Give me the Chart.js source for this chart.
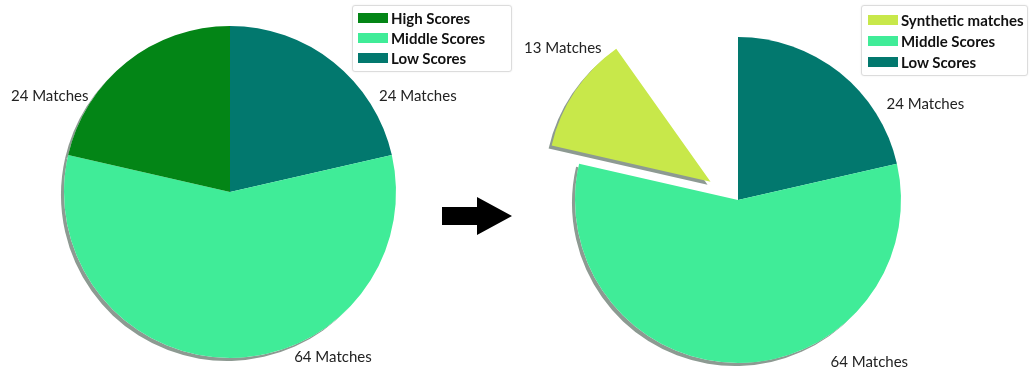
<!DOCTYPE html>
<html>
<head>
<meta charset="utf-8">
<script src="https://cdn.jsdelivr.net/npm/chart.js@4.4.1/dist/chart.umd.min.js"></script>
<style>
  body { margin: 0; background: #fff; width: 1032px; height: 373px; overflow: hidden; position: relative; font-family: Lato, sans-serif; }
  .pie { position: absolute; top: 0; width: 516px; height: 373px; }
  .legend { position: absolute; box-sizing: border-box; border: 1px solid #dcdcdc; border-radius: 3px; background: #fff;
            box-shadow: 0 0 2px rgba(0,0,0,0.08); font-weight: bold; font-size: 15px; color: #111; }
  .legend div { display: flex; align-items: center; }
  .legend span { display: inline-block; width: 30px; height: 10px; margin-right: 3px; }
  #arrow { position: absolute; left: 440px; top: 196px; }
</style>
</head>
<body>
<div class="pie" style="left:0"><canvas id="before"></canvas></div>
<div class="pie" style="left:516px"><canvas id="after"></canvas></div>
<div class="legend" id="beforeLegend" style="left:352px;top:5px;width:160px;height:67px;padding:2px 0 0 5px"></div>
<div class="legend" id="afterLegend" style="left:861px;top:5px;width:167px;height:71px;padding:3px 0 0 6px"></div>
<svg id="arrow" width="74" height="40" viewBox="0 0 74 40">
  <polygon points="2,11 37,11 37,1 72,20 37,39 37,29 2,29" fill="#000"/>
</svg>
<script>
// left pie: all real matches
const beforeLabels = ['Low Scores', 'Middle Scores', 'High Scores'];
const beforeValues = [24, 64, 24];
const beforeColors = ['#02786e', '#40ec98', '#038516'];

// right pie: high scores replaced by synthetic matches, rest of that slice left empty
const afterLabels = ['Low Scores', 'Middle Scores', 'Synthetic matches', 'Not synthesized'];
const afterValues = [24, 64, 13, 11];
const afterColors = ['#02786e', '#40ec98', '#c8e84a', 'rgba(0,0,0,0)'];

const labelSuffix = ' Matches';

// label placement: [degrees clockwise from top, distance as share of radius]
const beforeLabelPos = [[63, 1.27], [148, 1.17], [298, 1.23]];
const afterLabelPos = [[63, 1.29], [141, 1.28], [312, 1.22], null];

function buildLegend(el, labels, colors, order, rowH) {
  order.forEach(i => {
    const row = document.createElement('div');
    row.style.height = rowH + 'px';
    row.innerHTML = '<span style="background:' + colors[i] + '"></span>' + labels[i];
    el.appendChild(row);
  });
}
buildLegend(document.getElementById('beforeLegend'), beforeLabels, beforeColors, [2, 1, 0], 20);
buildLegend(document.getElementById('afterLegend'), afterLabels, afterColors, [2, 1, 0], 21);

function arcCentre(arc, d) {
  const h = (arc.startAngle + arc.endAngle) / 2;
  return { x: arc.x + Math.cos(h) * d, y: arc.y + Math.sin(h) * d };
}

const pieExtras = {
  id: 'pieExtras',
  beforeDatasetsDraw(chart, args, opts) {
    const ctx = chart.ctx;
    chart.getDatasetMeta(0).data.forEach((arc, i) => {
      if (opts.skip.includes(i)) return;
      const d = opts.explode[i] || 0;
      const c = arcCentre(arc, d);
      ctx.save();
      if (!d) {
        // only the rim casts a shadow for slices that stay in place
        ctx.beginPath();
        ctx.rect(0, 0, chart.width, chart.height);
        ctx.arc(arc.x, arc.y, arc.outerRadius, 0, Math.PI * 2);
        ctx.clip('evenodd');
      }
      ctx.fillStyle = opts.shadow;
      ctx.beginPath();
      ctx.moveTo(c.x - 3, c.y + 3);
      ctx.arc(c.x - 3, c.y + 3, arc.outerRadius, arc.startAngle, arc.endAngle);
      ctx.closePath();
      ctx.fill();
      ctx.restore();
      if (d && !arc._exploded) {
        const base = arc.draw;
        arc.draw = function (cx, area) {
          const h = (this.startAngle + this.endAngle) / 2;
          cx.save();
          cx.translate(Math.cos(h) * d, Math.sin(h) * d);
          base.call(this, cx, area);
          cx.restore();
        };
        arc._exploded = true;
      }
    });
  },
  afterDatasetsDraw(chart, args, opts) {
    const ctx = chart.ctx;
    const values = chart.data.datasets[0].data;
    ctx.save();
    ctx.font = '15px Lato';
    ctx.fillStyle = '#222';
    ctx.textAlign = 'center';
    ctx.textBaseline = 'middle';
    chart.getDatasetMeta(0).data.forEach((arc, i) => {
      const pos = opts.labelPos[i];
      if (!pos) return;
      const c = arcCentre(arc, opts.explode[i] || 0);
      const a = pos[0] * Math.PI / 180;
      const r = arc.outerRadius * pos[1];
      ctx.fillText(values[i] + labelSuffix, c.x + Math.sin(a) * r, c.y - Math.cos(a) * r);
    });
    ctx.restore();
  }
};

function makePie(id, labels, values, colors, radius, padding, extras) {
  return new Chart(document.getElementById(id).getContext('2d'), {
    type: 'pie',
    data: {
      labels: labels,
      datasets: [{
        data: values,
        backgroundColor: colors,
        borderWidth: 0,
        radius: radius,
      }],
    },
    options: {
      responsive: true,
      maintainAspectRatio: false,
      animation: false,
      events: [],
      layout: { padding: padding },
      plugins: {
        legend: { display: false },
        tooltip: { enabled: false },
        pieExtras: extras,
      },
    },
    plugins: [pieExtras],
  });
}

makePie('before', beforeLabels, beforeValues, beforeColors, 166,
  { left: 0, right: 56, top: 11, bottom: 0 },
  { shadow: '#8d9a92', skip: [], explode: [], labelPos: beforeLabelPos });

makePie('after', afterLabels, afterValues, afterColors, 163,
  { left: 0, right: 72, top: 27, bottom: 0 },
  { shadow: '#8d9a92', skip: [3], explode: [0, 0, 33, 0], labelPos: afterLabelPos });
</script>
</body>
</html>
